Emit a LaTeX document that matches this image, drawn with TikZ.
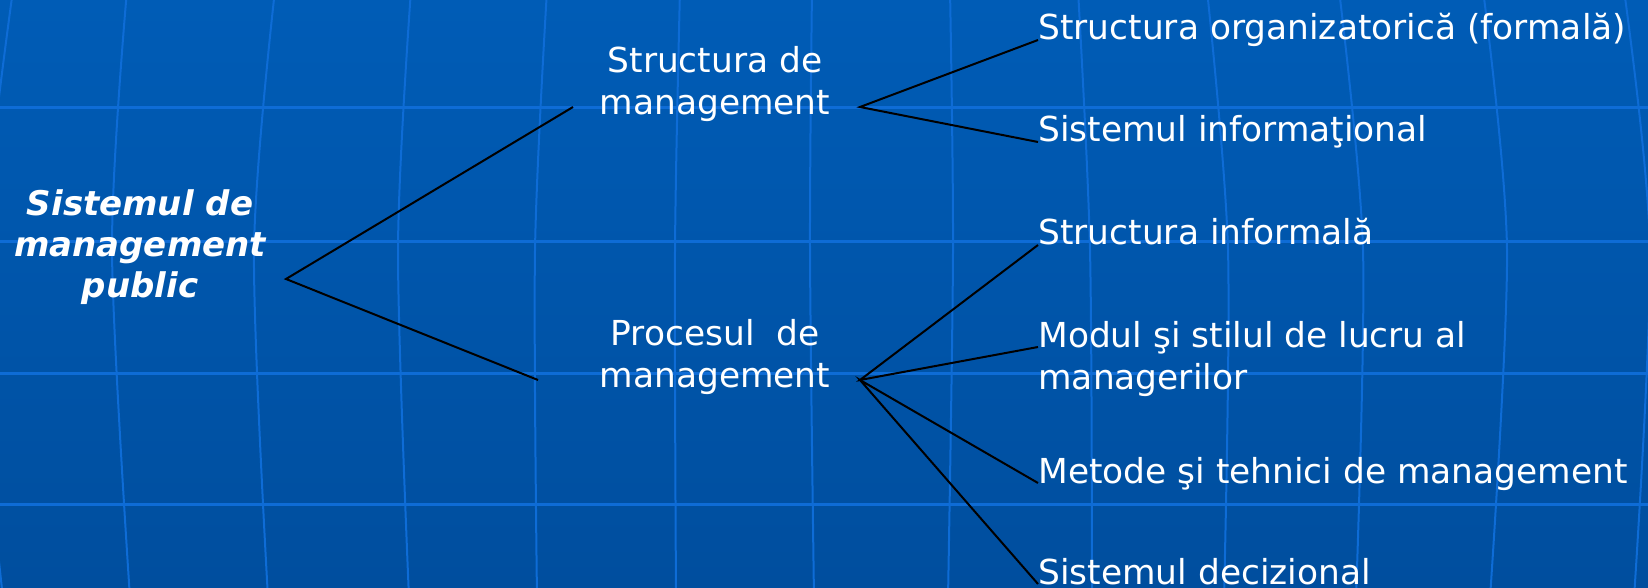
\documentclass[tikz,border=0pt]{standalone}
\usepackage{fontspec}
\setmainfont{DejaVu Sans}
\usetikzlibrary{positioning}
\definecolor{bgtop}{RGB}{0,92,182}
\definecolor{bgbot}{RGB}{0,78,158}
\definecolor{gridblue}{RGB}{14,108,214}
\tikzstyle{txt}=[text=white, inner sep=0pt, font=\fontsize{17.2pt}{21pt}\selectfont]
\tikzstyle{midtext}=[txt, align=center]
\tikzstyle{leaf}=[txt, anchor=base west, align=left]
\tikzstyle{rootbox}=[txt, align=center, font=\fontsize{17pt}{20.5pt}\selectfont\bfseries\itshape]
\tikzstyle{l1}=[line width=1pt, black]
\tikzstyle{gh}=[line width=1.5pt, gridblue]
\tikzstyle{gv}=[line width=1pt, gridblue]

\begin{document}
\begin{tikzpicture}[x=0.5pt, y=-0.5pt]
    \useasboundingbox (0,0) rectangle (1648,588);
    \clip (0,0) rectangle (1648,588);
    \shade[top color=bgtop, bottom color=bgbot] (0,0) rectangle (1648,588);

    \draw[gh] (-10,108) -- (1660,108);
    \draw[gh] (-10,242) -- (1660,242);
    \draw[gh] (-10,373) -- (1660,373);
    \draw[gh] (-10,504) -- (1660,504);
    \draw[gv] plot[smooth] coordinates {(13,-10) (-20,300) (3,598)};
    \draw[gv] plot[smooth] coordinates {(127,-10) (112,250) (130,598)};
    \draw[gv] plot[smooth] coordinates {(275,-10) (254,250) (268,598)};
    \draw[gv] plot[smooth] coordinates {(411,-10) (398,250) (409,598)};
    \draw[gv] plot[smooth] coordinates {(547,-10) (535,250) (537,598)};
    \draw[gv] plot[smooth] coordinates {(680,-10) (675,250) (676,598)};
    \draw[gv] plot[smooth] coordinates {(812,-10) (810,250) (814,598)};
    \draw[gv] plot[smooth] coordinates {(950,-10) (953,250) (948,598)};
    \draw[gv] plot[smooth] coordinates {(1078,-10) (1090,250) (1092,598)};
    \draw[gv] plot[smooth] coordinates {(1207,-10) (1228,250) (1224,598)};
    \draw[gv] plot[smooth] coordinates {(1339,-10) (1363,250) (1356,598)};
    \draw[gv] plot[smooth] coordinates {(1483,-10) (1507,250) (1490,598)};
    \draw[gv] plot[smooth] coordinates {(1624,-10) (1650,250) (1634,598)};

    \node[rootbox] at (140,247) (sys) {Sistemul de\\management\\public};
    \node[midtext] at (715,84) (struct) {Structura de\\management};
    \node[midtext] at (715,357) (proc) {Procesul~~de\\management};
    \node[leaf] at (1038,40) (org) {Structura organizatorică (formală)};
    \node[leaf] at (1038,142) (info) {Sistemul informaţional};
    \node[leaf] at (1038,245) (inf) {Structura informală};
    \node[leaf] at (1038,389) (mod) {Modul şi stilul de lucru al\\managerilor};
    \node[leaf] at (1038,483) (met) {Metode şi tehnici de management};
    \node[leaf] at (1038,584) (dec) {Sistemul decizional};

    \coordinate (sysfork) at (286,279);
    \coordinate (sysup) at (573,107);
    \coordinate (syslow) at (538,380);
    \coordinate (structfork) at (860,107);
    \coordinate (procfork) at (860,380);
    \coordinate (modend) at (1038,347);

    \draw[l1] (sysup) -- (sysfork) -- (syslow);
    \draw[l1] (org.base west) -- (structfork) -- (info.base west);
    \draw[l1] (inf.base west) -- (procfork) -- (modend);
    \draw[l1] (met.base west) -- (procfork) -- (dec.base west);
\end{tikzpicture}
\end{document}
